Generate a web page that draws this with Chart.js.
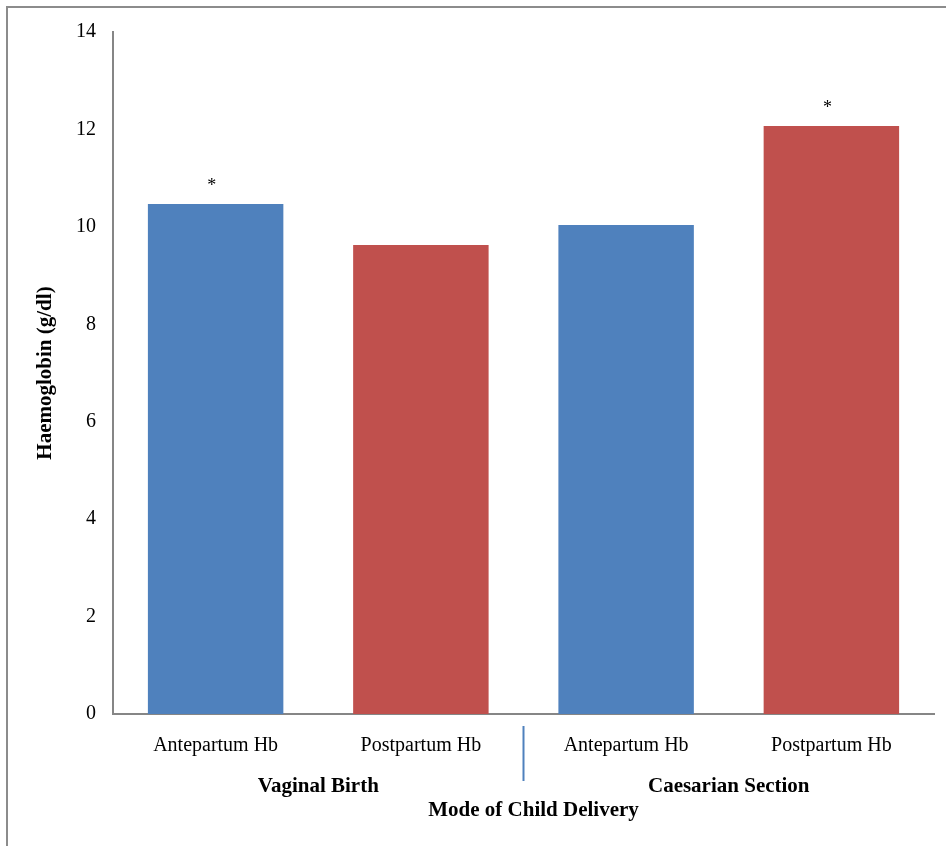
<!DOCTYPE html>
<html>
<head>
<meta charset="utf-8">
<script src="https://cdn.jsdelivr.net/npm/chart.js@4.4.0/dist/chart.umd.min.js"></script>
<style>
  html, body { margin: 0; padding: 0; background: #fff; }
  #wrap { position: relative; width: 946px; height: 846px; }
</style>
</head>
<body>
<div id="wrap"><canvas id="c" width="946" height="846"></canvas></div>
<script>
const categories = ["Antepartum Hb", "Postpartum Hb", "Antepartum Hb", "Postpartum Hb"];
const groups = ["Vaginal Birth", "Caesarian Section"];
const haemoglobin = [10.47, 9.63, 10.04, 12.07];
const significance = ["*", "", "", "*"];
const barColors = ["#4F81BD", "#C0504D", "#4F81BD", "#C0504D"];
const yTicks = [0, 2, 4, 6, 8, 10, 12, 14];
const yTitle = "Haemoglobin (g/dl)";
const xTitle = "Mode of Child Delivery";

const SERIF = "'Liberation Serif', 'Times New Roman', serif";

const decor = {
  id: 'decor',
  afterDraw(chart) {
    const ctx = chart.ctx;
    const x = chart.scales.x;
    ctx.save();
    // outer frame
    ctx.strokeStyle = '#8c8c8c';
    ctx.lineWidth = 2;
    ctx.beginPath();
    ctx.moveTo(7, 846); ctx.lineTo(7, 7); ctx.lineTo(946, 7);
    ctx.stroke();

    // significance markers
    const meta = chart.getDatasetMeta(0);
    ctx.fillStyle = '#000';
    ctx.font = "18px " + SERIF;
    ctx.textAlign = 'center';
    ctx.textBaseline = 'middle';
    meta.data.forEach((bar, i) => {
      if (significance[i]) ctx.fillText(significance[i], bar.x - 4, bar.y - 18);
    });

    // group separator
    const sepX = (x.getPixelForTick(1) + x.getPixelForTick(2)) / 2;
    ctx.strokeStyle = '#4F81BD';
    ctx.lineWidth = 2;
    ctx.beginPath();
    ctx.moveTo(sepX, 726); ctx.lineTo(sepX, 781);
    ctx.stroke();

    // group labels
    ctx.font = "bold 21px " + SERIF;
    ctx.fillStyle = '#000';
    for (let g = 0; g < groups.length; g++) {
      const cx = (x.getPixelForTick(2 * g) + x.getPixelForTick(2 * g + 1)) / 2;
      ctx.fillText(groups[g], cx, 787);
    }
    // x title
    ctx.fillText(xTitle, (chart.chartArea.left + chart.chartArea.right) / 2 + 10, 811);

    // y title
    ctx.translate(46, (chart.chartArea.top + chart.chartArea.bottom) / 2);
    ctx.rotate(-Math.PI / 2);
    ctx.fillText(yTitle, 0, 0);
    ctx.restore();
  }
};

new Chart(document.getElementById('c'), {
  type: 'bar',
  data: {
    labels: categories,
    datasets: [{
      data: haemoglobin,
      backgroundColor: barColors,
      borderWidth: 0,
      barPercentage: 0.66,
      categoryPercentage: 1.0
    }]
  },
  options: {
    responsive: false,
    animation: false,
    devicePixelRatio: 1,
    layout: { padding: { top: 32, right: 12, bottom: 0, left: 0 } },
    plugins: { legend: { display: false }, tooltip: { enabled: false }, title: { display: false } },
    scales: {
      x: {
        grid: { display: false, drawTicks: false },
        border: { display: true, color: '#868686', width: 2 },
        ticks: { color: '#000', font: { family: SERIF, size: 20 }, padding: 20, maxRotation: 0, autoSkip: false },
        afterFit(s) { s.height = 132; }
      },
      y: {
        min: 0, max: 14,
        afterBuildTicks(s) { s.ticks = yTicks.map(v => ({ value: v })); },
        grid: { display: false, drawTicks: false },
        border: { display: true, color: '#868686', width: 2 },
        ticks: { color: '#000', font: { family: SERIF, size: 20 }, padding: 17 },
        afterFit(s) { s.width = 113; }
      }
    }
  },
  plugins: [decor]
});
</script>
</body>
</html>
